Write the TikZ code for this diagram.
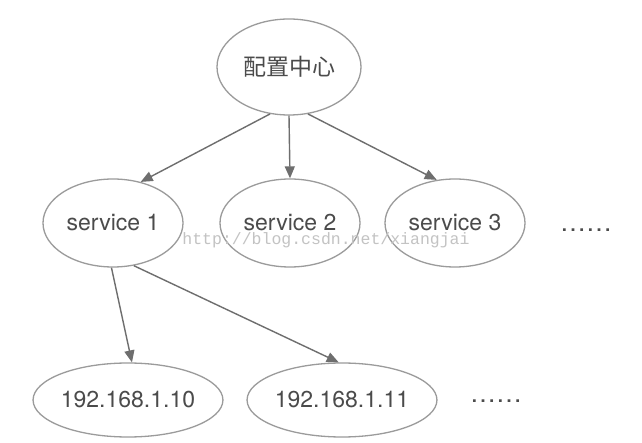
\documentclass[tikz,border=0pt]{standalone}
\usepackage{fontspec}
\setmainfont{TeX Gyre Heros}
\newfontfamily\cjkfont{Noto Sans CJK SC}
\newfontfamily\wmfont{Liberation Mono}
\usetikzlibrary{shapes.geometric,arrows.meta}
\definecolor{edgegray}{RGB}{155,155,155}
\definecolor{arrowgray}{RGB}{110,110,110}
\definecolor{textgray}{RGB}{75,75,75}
\definecolor{wmgray}{RGB}{195,195,195}
\begin{document}
\begin{tikzpicture}[x=1pt,y=-1pt,
  oval/.style={ellipse, draw=edgegray, line width=1.3pt, inner sep=0pt, text=textgray, font=\fontsize{23}{23}\selectfont},
  svc/.style={oval, minimum width=140pt, minimum height=88pt},
  ipn/.style={oval, minimum width=188pt, minimum height=74pt},
  link/.style={draw=arrowgray, line width=1.4pt, -{Triangle[length=12pt,width=10pt]}},
  dots/.style={text=textgray, font=\fontsize{26}{26}\selectfont, inner sep=0pt, anchor=base}]
\useasboundingbox[fill=white] (0,0) rectangle (642,443);
\node[oval, minimum width=144pt, minimum height=96pt] (cfg) at (289,67) {\cjkfont 配置中心};
\node[svc] (s1) at (113,223) {service 1};
\node[svc] (s2) at (290,223) {service 2};
\node[svc] (s3) at (455,223) {service 3};
\node[dots] (d1) at (586,232) {……};
\node[ipn] (ip1) at (128,400) {192.168.1.10};
\node[ipn] (ip2) at (342,400) {192.168.1.11};
\node[dots] (d2) at (496,402) {……};
\draw[link] (cfg.248) -- (s1.56);
\draw[link] (cfg.270) -- (s2.90);
\draw[link] (cfg.292) -- (s3.113);
\draw[link] (s1.268) -- (ip1.84);
\draw[link] (s1.296) -- (ip2.95);
\node[text=wmgray, font=\wmfont\fontsize{16.5}{16.5}\selectfont, inner sep=0pt, anchor=base] (wm) at (326,245) {http://blog.csdn.net/xiangjai};
\end{tikzpicture}
\end{document}
